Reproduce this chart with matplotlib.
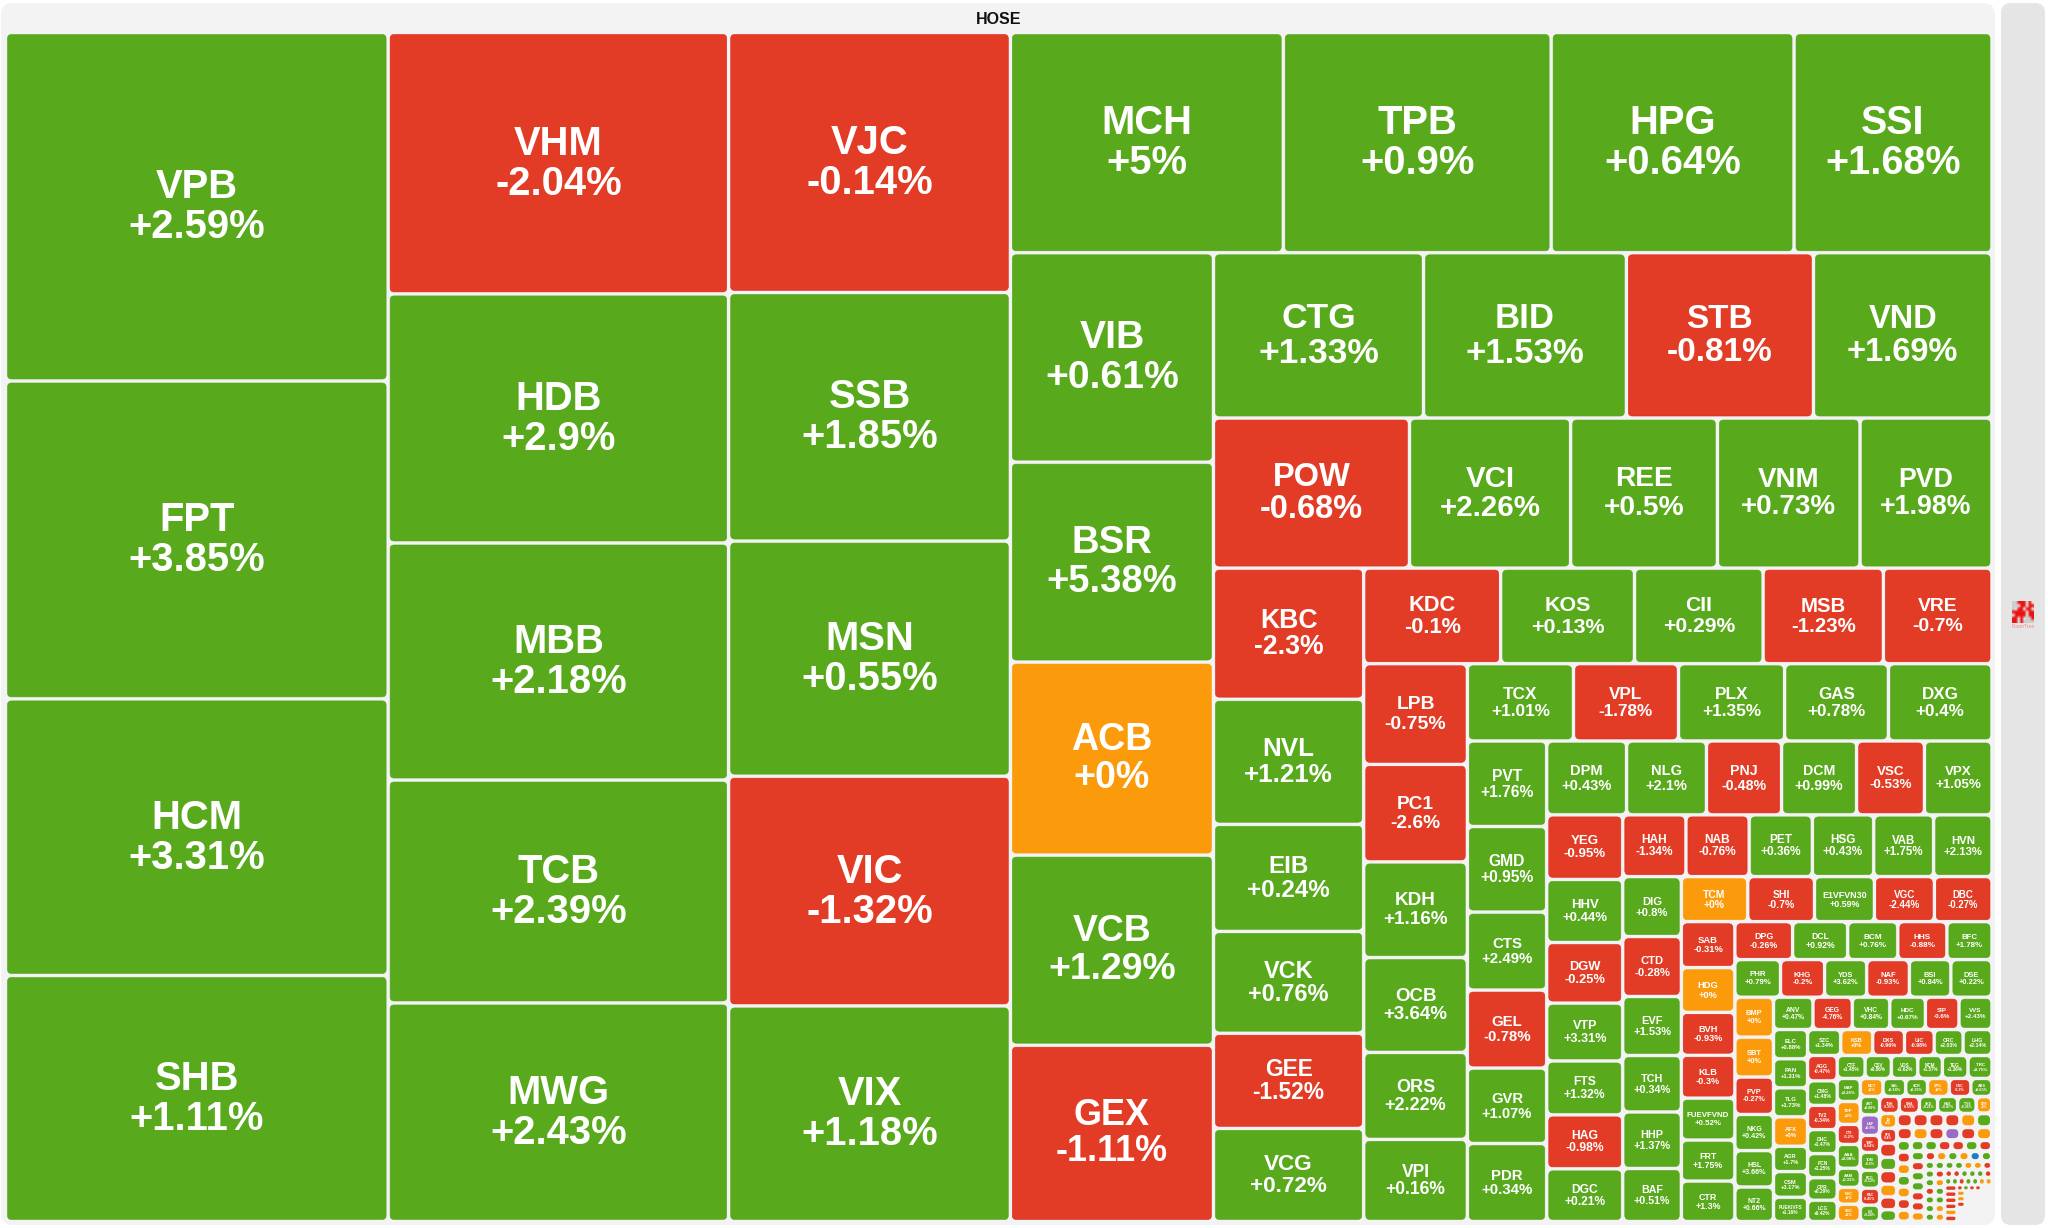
"""HOSE market heat map, one cell per ticker"""
import numpy as np
import matplotlib
matplotlib.use("Agg")
import matplotlib.pyplot as plt
from matplotlib.patches import FancyBboxPatch

plt.rcParams['font.family'] = ['Liberation Sans', 'DejaVu Sans']

# strips are peeled off the remaining area: 'c' = column on the left, 'r' = row on top
strips = [('c', 4), ('c', 5), ('c', 5), ('r', 4), ('c', 5), ('r', 4), ('r', 5), ('c', 6),
          ('r', 5), ('c', 6), ('r', 5), ('c', 6), ('r', 6), ('c', 7), ('r', 6), ('c', 6),
          ('r', 5), ('c', 7), ('r', 5), ('r', 6), ('c', 6), ('r', 6), ('c', 7), ('r', 6),
          ('c', 7), ('r', 6), ('c', 7), ('r', 6), ('c', 7), ('r', 6), ('c', 8), ('r', 6),
          ('r', 6), ('c', 7), ('r', 6), ('c', 7), ('r', 6), ('c', 7), ('c', 7), ('r', 5),
          ('r', 6), ('r', 7), ('c', 6), ('r', 5), ('c', 4), ('r', 1)]

tickers = ['VPB', 'FPT', 'HCM', 'SHB',
           'VHM', 'HDB', 'MBB', 'TCB', 'MWG',
           'VJC', 'SSB', 'MSN', 'VIC', 'VIX',
           'MCH', 'TPB', 'HPG', 'SSI',
           'VIB', 'BSR', 'ACB', 'VCB', 'GEX',
           'CTG', 'BID', 'STB', 'VND',
           'POW', 'VCI', 'REE', 'VNM', 'PVD',
           'KBC', 'NVL', 'EIB', 'VCK', 'GEE', 'VCG',
           'KDC', 'KOS', 'CII', 'MSB', 'VRE',
           'LPB', 'PC1', 'KDH', 'OCB', 'ORS', 'VPI',
           'TCX', 'VPL', 'PLX', 'GAS', 'DXG',
           'PVT', 'GMD', 'CTS', 'GEL', 'GVR', 'PDR',
           'DPM', 'NLG', 'PNJ', 'DCM', 'VSC', 'VPX',
           'YEG', 'HHV', 'DGW', 'VTP', 'FTS', 'HAG', 'DGC',
           'HAH', 'NAB', 'PET', 'HSG', 'VAB', 'HVN',
           'DIG', 'CTD', 'EVF', 'TCH', 'HHP', 'BAF',
           'TCM', 'SHI', 'E1VFVN30', 'VGC', 'DBC',
           'SAB', 'HDG', 'BVH', 'KLB', 'FUEVFVND', 'FRT', 'CTR',
           'DPG', 'DCL', 'BCM', 'HHS', 'BFC',
           'PHR', 'KHG', 'YDS', 'NAF', 'BSI', 'DSE',
           'BMP', 'SBT', 'PVP', 'NKG', 'HSL', 'NT2',
           'ANV', 'GEG', 'VHC', 'HDC', 'SIP', 'VVS',
           'ELC', 'PAN', 'TLG', 'AFX', 'AGR', 'CSM', 'FUEKIVFS',
           'SZC', 'KSB', 'DXS', 'UIC', 'CRC', 'LHG',
           'AGG', 'CMG', 'TV2', 'DHC', 'FCN', 'OPR', 'LCG',
           'CTF', 'CSV', 'VDS', 'MCM', 'TEG', 'TRC',
           'MAP', 'TDP', 'CTI', 'AAA', 'AAM', 'NHC', 'SGC',
           'MCT', 'SAL', 'SCR', 'VPG', 'CSC', 'ABS',
           'AST', 'LAF', 'TMP', 'TDM', 'BCG', 'PAC', 'LIX',
           'TNH', 'DHA', 'SKG', 'HAX', 'TVS', 'DPR',
           'IDI', 'SFG', 'APG', 'LSS', 'NHA', 'TTA', 'ASM', 'TVB',
           'HTN', 'HT1', 'BMI', 'TNI', 'SVT', 'PPC',
           'VOS', 'SMC', 'HCD', 'SMA', 'DRC', 'VSI',
           'PTL', 'CCL', 'TCO', 'GIL', 'HII', 'SRC', 'NBB',
           'QCG', 'ITC', 'PDN', 'LDG', 'TLH', 'VTO',
           'ACL', 'CLC', 'C32', 'DAH', 'CNG', 'HID', 'TIP',
           'DTA', 'NTL', 'VID', 'TYA', 'KPF', 'DBT',
           'TSC', 'SCD', 'HPX', 'HRC', 'SHA', 'ST8', 'TDC',
           'ADG', 'CIG', 'BTT', 'FDC', 'VNE', 'CTG1', 'SBV',
           'HU1', 'LM8', 'TNC', 'TPC', 'PIT',
           'HOT', 'HVX', 'CVT', 'TTE', 'VRC', 'TNT',
           'SC5', 'RAL', 'SVC', 'PHC', 'TDH', 'PNC', 'GTA',
           'CMX', 'TCL', 'TCR', 'KPF1', 'BKG', 'EVE',
           'CCI', 'CDC', 'AAT', 'VAF', '',
           'DAT', 'BRC', 'TGG', '',
           '']

changes = [2.59, 3.85, 3.31, 1.11,
           -2.04, 2.9, 2.18, 2.39, 2.43,
           -0.14, 1.85, 0.55, -1.32, 1.18,
           5, 0.9, 0.64, 1.68,
           0.61, 5.38, 0, 1.29, -1.11,
           1.33, 1.53, -0.81, 1.69,
           -0.68, 2.26, 0.5, 0.73, 1.98,
           -2.3, 1.21, 0.24, 0.76, -1.52, 0.72,
           -0.1, 0.13, 0.29, -1.23, -0.7,
           -0.75, -2.6, 1.16, 3.64, 2.22, 0.16,
           1.01, -1.78, 1.35, 0.78, 0.4,
           1.76, 0.95, 2.49, -0.78, 1.07, 0.34,
           0.43, 2.1, -0.48, 0.99, -0.53, 1.05,
           -0.95, 0.44, -0.25, 3.31, 1.32, -0.98, 0.21,
           -1.34, -0.76, 0.36, 0.43, 1.75, 2.13,
           0.8, -0.28, 1.53, 0.34, 1.37, 0.51,
           0, -0.7, 0.59, -2.44, -0.27,
           -0.31, 0, -0.93, -0.3, 0.52, 1.75, 1.3,
           -0.26, 0.92, 0.76, -0.88, 1.78,
           0.79, -0.2, 3.62, -0.93, 0.84, 0.22,
           0, 0, -0.27, 0.42, 3.66, 0.66,
           0.47, -4.76, 0.84, 0.67, -0.6, 2.43,
           0.88, 1.31, 1.73, 0, 1.7, 3.17, 1.16,
           1.34, 0, -0.96, -0.98, 2.03, 2.14,
           -0.47, 1.48, -0.34, 1.47, 1.25, 0.29, 0.42,
           1.45, 0.86, 1.62, 1.57, 1.36, 0.75,
           0.26, 0, -0.2, 0.08, 0.31, 0, 0,
           0, 0.18, 0.35, 0, -0.3, 0.63,
           0.08, 6.9, -0.64, 0.5, 0.13, -0.45, 0.24,
           -0.35, -0.55, 0.21, 0.47, 0.36, 0,
           0, -0.4, -0.6, 0.3, -0.2, 0, -0.5, 0.2,
           -0.6, -0.3, -0.5, -0.4, 0, 0.5,
           -0.3, 0, -0.7, 6.9, -0.4, 0,
           0.4, -0.5, 0, 0.2, 0, -0.6, 0,
           0.3, 0.2, -0.4, -0.5, 0.1, -0.6,
           0.2, -0.3, 0.4, 0.5, -0.2, -0.5, 0,
           -0.3, 0, 0.2, 0, -6.9, 0.4,
           0.2, 0.5, 0.1, -0.4, 0.3, 0.3, 0.6,
           0.4, -0.5, 0, 0.2, 0.1, 0, 0,
           0.3, 0.1, 0, 0, -0.4,
           -0.5, -0.3, 0.2, 0.4, 0.3, -0.2,
           0.1, 0.5, -0.4, 0.2, 0.4, 0, 0,
           -0.5, -0.2, -0.3, -0.4, 0, -0.6,
           -0.3, 0.2, -0.2, -0.5, None,
           0, 0, -0.4, None,
           None]

# cell areas, one hundred square pixels per unit
weights = [1333, 1216, 1058, 941,
           890, 848, 807, 759, 744,
           732, 700, 662, 647, 607,
           601, 590, 535, 436,
           425, 406, 392, 386, 358,
           347, 335, 309, 295,
           294, 242, 220, 214, 198,
           197, 188, 161, 153, 143, 140,
           131, 128, 123, 115, 104,
           104, 101, 99, 98, 90, 85,
           82, 81, 82, 80, 80,
           68, 68, 62, 62, 60, 62,
           59, 59, 55.5, 55.5, 50, 50,
           49, 48, 46, 44, 41, 41, 40,
           39, 39, 39, 38, 37, 36,
           35, 35, 34.5, 33, 33, 31,
           30, 30, 27, 27, 26,
           24.6, 24, 23, 23, 22.5, 22, 21.7,
           21.9, 20.9, 19, 18.6, 17.1,
           17.1, 16.5, 15.8, 15.9, 15.6, 15.4,
           15.4, 15.4, 14.4, 14, 14, 13.3,
           12.8, 12.7, 12.2, 11.5, 10.9, 10.7,
           10, 9.9, 9.9, 10, 8.7, 8.7, 8.3,
           8.6, 8.3, 8.2, 7.7, 7.5, 7.5,
           7.5, 7.2, 7.2, 7.1, 7.1, 6.6, 6.3,
           6.4, 6, 6.1, 5.6, 5.9, 5.5,
           5.3, 5.3, 4.6, 5.5, 4.4, 3.9, 4,
           4.1, 4.1, 3.9, 3.9, 3.9, 3.8,
           3.6, 4, 3.3, 3.5, 3.5, 3.3, 3.2,
           3.3, 3.4, 3.1, 3.4, 3.1, 2.7,
           2.55, 2.55, 2.4, 2.3, 2.3, 2.2, 2.2, 2,
           2.2, 2.2, 2.2, 2.2, 2.2, 2.2,
           2.05, 2.05, 2.05, 2.05, 2.05, 2.05,
           1.63, 1.63, 1.63, 1.63, 1.63, 1.63, 1.63,
           1.49, 1.49, 1.49, 1.49, 1.49, 1.49,
           1.41, 1.41, 1.41, 1.41, 1.41, 1.41, 1.41,
           1.12, 1.12, 1.12, 1.12, 1.12, 1.12,
           0.86, 0.86, 0.86, 0.86, 0.86, 0.86, 0.86,
           0.86, 0.86, 0.86, 0.86, 0.86, 0.86, 0.86,
           0.8, 0.8, 0.8, 0.8, 0.8,
           0.63, 0.63, 0.63, 0.63, 0.63, 0.63,
           0.5, 0.5, 0.5, 0.5, 0.5, 0.5, 0.5,
           0.73, 0.73, 0.73, 0.73, 0.73, 0.73,
           0.33, 0.33, 0.33, 0.33, 0.6,
           0.44, 0.44, 0.44, 1.16,
           8.4]

# small FoamTree badge in the side bar: 0 grey, 1 red, 2 blank
badge = np.array([[0, 0, 1, 1, 1, 2, 1, 2],
                  [0, 0, 2, 1, 1, 2, 1, 1],
                  [0, 2, 1, 1, 2, 1, 1, 2],
                  [1, 1, 1, 1, 1, 2, 1, 1],
                  [2, 1, 1, 1, 1, 2, 1, 1],
                  [1, 1, 2, 1, 2, 0, 0, 1],
                  [1, 1, 2, 1, 0, 0, 0, 0]])
badge_rgb = np.array([[205, 205, 205], [232, 20, 20], [228, 228, 228]], dtype=np.uint8)

GREEN, RED, ORANGE = '#58a91c', '#e33c26', '#fb9b0c'
PURPLE, BLUE = '#9b6cc4', '#1b7dc2'
EDGES = {GREEN: '#4fa41a', RED: '#e4211a', ORANGE: '#fb9b0c', PURPLE: '#9b6cc4', BLUE: '#1b7dc2'}


def cell_color(change):
    if change >= 6.9:
        return PURPLE
    if change <= -6.9:
        return BLUE
    if change > 0:
        return GREEN
    if change < 0:
        return RED
    return ORANGE


def layout(x0, y0, x1, y1):
    """Peel the strips off the rectangle, returns x, y, w, h for each weight"""
    cells = []
    i = 0
    w = np.array(weights, dtype=float)
    for kind, n in strips:
        left = w[i:].sum()
        part = w[i:i+n]
        frac = part.sum()/left
        if kind == 'c':
            end = x0 + (x1-x0)*frac
            y = y0
            for p in part:
                h = (y1-y0)*p/part.sum()
                cells.append((x0, y, end-x0, h))
                y += h
            x0 = end
        else:
            end = y0 + (y1-y0)*frac
            x = x0
            for p in part:
                d = (x1-x0)*p/part.sum()
                cells.append((x, y0, d, end-y0))
                x += d
            y0 = end
        i += n
    return cells


fig = plt.figure(figsize=(20.48, 12.28), dpi=100, facecolor='white')
ax = fig.add_axes([0, 0, 1, 1])

ax.add_patch(FancyBboxPatch((1, 3), 1994, 1222, boxstyle="round,pad=0,rounding_size=12",
                            fc='#f3f3f3', ec='none'))
ax.add_patch(FancyBboxPatch((2001, 3), 44, 1222, boxstyle="round,pad=0,rounding_size=10",
                            fc='#e5e5e5', ec='none'))
ax.text(999, 19.5, 'HOSE', ha='center', va='center', color='#111111',
        fontsize=16*0.72, fontweight='bold')

for (x, y, w, h), name, change in zip(layout(5.5, 32.5, 1992, 1221.5), tickers, changes):
    if change is None:
        continue
    color = cell_color(change)
    inset = min(2.0, 0.22*min(w, h))
    bw, bh = w-2*inset, h-2*inset
    radius = min(4, min(bw, bh)/2)
    ax.add_patch(FancyBboxPatch((x+inset, y+inset), bw, bh,
                                boxstyle="round,pad=0,rounding_size=%.2f" % radius,
                                fc=color, ec=EDGES[color], lw=0.4 if bw > 12 else 0))
    # font follows the cell size up to a cap, long names get shrunk to fit
    size = min(40, 0.19*np.sqrt(w*h), 0.92*bw/(0.72*max(len(name), 4)))
    if size < 3.0:
        continue
    label = '%+g%%' % change
    for text, off in ((name, -0.5), (label, 0.5)):
        ax.text(x+w/2, y+h/2+off*size+0.5, text, ha='center', va='center', color='white',
                fontsize=size*0.72, fontweight='bold')

ax.imshow(badge_rgb[badge], extent=(2012, 2034, 623, 601), interpolation='bilinear',
          aspect='auto', zorder=3)
ax.text(2023, 626, 'FoamTree', ha='center', va='center', color='#f09090', fontsize=3.6)

ax.set_xlim(0, 2048)
ax.set_ylim(1228, 0)
ax.axis('off')
fig.savefig('out.png', dpi=100, facecolor='white')
